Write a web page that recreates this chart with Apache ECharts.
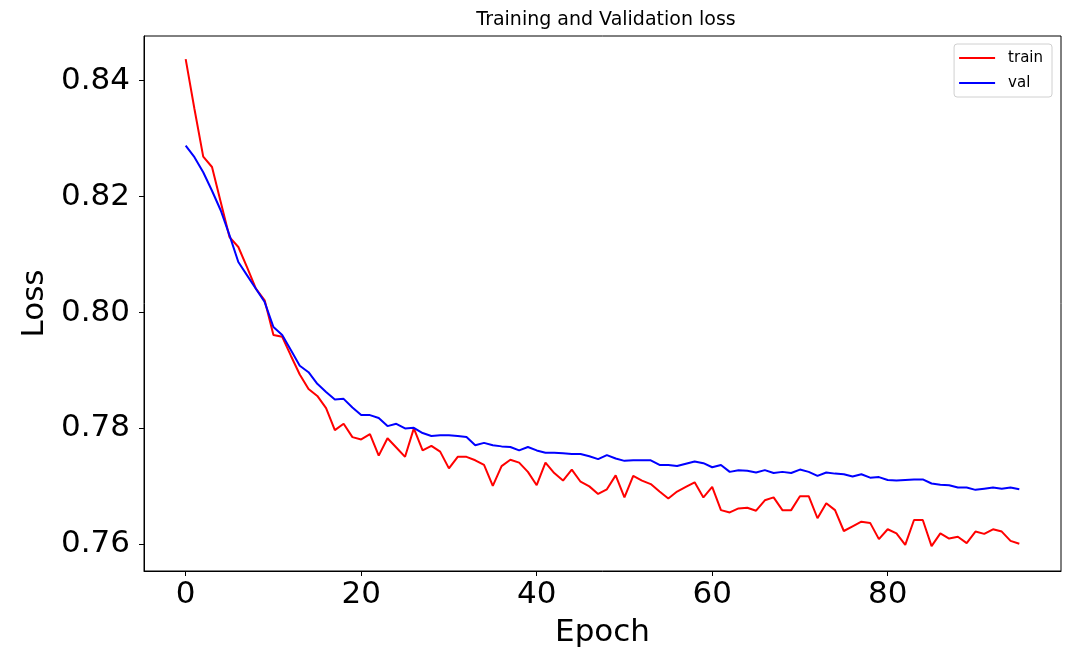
<!DOCTYPE html>
<html>
<head>
<meta charset="utf-8">
<script src="https://cdn.jsdelivr.net/npm/echarts@6/dist/echarts.min.js"></script>
<style>
  html, body { margin: 0; padding: 0; background: #fff; }
  #chart { width: 1076px; height: 653px; }
</style>
</head>
<body>
<div id="chart"></div>
<script>
const trainLoss = [
  0.8437, 0.8351, 0.8269, 0.8251, 0.8190, 0.8130, 0.8113, 0.8078, 0.8041, 0.8021,
  0.7961, 0.7958, 0.7925, 0.7893, 0.7868, 0.7856, 0.7835, 0.7797, 0.7808, 0.7785,
  0.7781, 0.7790, 0.7753, 0.7783, 0.7767, 0.7751, 0.7800, 0.7762, 0.7770, 0.7760,
  0.7731, 0.7751, 0.7751, 0.7745, 0.7737, 0.7701, 0.7735, 0.7746, 0.7741, 0.7725,
  0.7702, 0.7741, 0.7723, 0.7710, 0.7729, 0.7708, 0.7700, 0.7687, 0.7695, 0.7719,
  0.7681, 0.7718, 0.7710, 0.7704, 0.7691, 0.7679, 0.7691, 0.7699, 0.7707, 0.7681,
  0.7699, 0.7659, 0.7655, 0.7662, 0.7663, 0.7658, 0.7676, 0.7681, 0.7659, 0.7659,
  0.7683, 0.7683, 0.7645, 0.7671, 0.7659, 0.7623, 0.7631, 0.7639, 0.7637, 0.7609,
  0.7626, 0.7619, 0.7599, 0.7642, 0.7642, 0.7597, 0.7619, 0.7610, 0.7613, 0.7602,
  0.7622, 0.7618, 0.7626, 0.7622, 0.7606, 0.7601
];

const valLoss = [
  0.8288, 0.8268, 0.8242, 0.8210, 0.8176, 0.8133, 0.8087, 0.8064, 0.8041, 0.8018,
  0.7975, 0.7961, 0.7935, 0.7908, 0.7897, 0.7877, 0.7863, 0.7850, 0.7851, 0.7836,
  0.7823, 0.7823, 0.7818, 0.7804, 0.7808, 0.7800, 0.7801, 0.7792, 0.7787, 0.7788,
  0.7788, 0.7787, 0.7785, 0.7771, 0.7775, 0.7771, 0.7769, 0.7768, 0.7762, 0.7768,
  0.7762, 0.7758, 0.7758, 0.7757, 0.7756, 0.7756, 0.7752, 0.7747, 0.7754, 0.7748,
  0.7744, 0.7745, 0.7745, 0.7745, 0.7737, 0.7737, 0.7735, 0.7739, 0.7743, 0.7740,
  0.7733, 0.7737, 0.7725, 0.7728, 0.7727, 0.7724, 0.7728, 0.7723, 0.7725, 0.7723,
  0.7729, 0.7725, 0.7718, 0.7724, 0.7722, 0.7721, 0.7717, 0.7721, 0.7715, 0.7716,
  0.7711, 0.7710, 0.7711, 0.7712, 0.7712, 0.7705, 0.7703, 0.7702, 0.7698, 0.7698,
  0.7694, 0.7696, 0.7698, 0.7696, 0.7698, 0.7695
];

const xTicks = [0, 20, 40, 60, 80];
const yTicks = [0.76, 0.78, 0.80, 0.82, 0.84];

const font = '"DejaVu Sans", sans-serif';
const toPairs = arr => arr.map((v, i) => [i, v]);

const chart = echarts.init(document.getElementById('chart'), null, { renderer: 'canvas' });
chart.setOption({
  animation: false,
  backgroundColor: '#fff',
  title: {
    text: 'Training and Validation loss',
    left: 601,
    textAlign: 'center',
    top: 6,
    textStyle: { fontFamily: font, fontSize: 19, fontWeight: 'normal', color: '#000' }
  },
  legend: {
    orient: 'vertical',
    right: 24,
    top: 44,
    padding: [5, 9, 5, 5],
    itemGap: 7,
    itemWidth: 36,
    itemHeight: 2,
    icon: 'rect',
    borderColor: '#d0d0d0',
    borderWidth: 1,
    borderRadius: 3,
    backgroundColor: '#fff',
    textStyle: { fontFamily: font, fontSize: 15, color: '#000', lineHeight: 18, padding: [0, 0, 0, 8] },
    data: ['train', 'val']
  },
  grid: {
    left: 144,
    right: 15,
    top: 36,
    bottom: 82,
    show: true,
    borderColor: '#000',
    borderWidth: 1
  },
  xAxis: {
    type: 'value',
    min: -4.75,
    max: 99.75,
    name: 'Epoch',
    nameLocation: 'middle',
    nameGap: 46,
    nameTextStyle: { fontFamily: font, fontSize: 31, color: '#000' },
    axisLine: { show: true, onZero: false, lineStyle: { color: '#000', width: 1 } },
    splitLine: { show: false },
    axisTick: { show: true, inside: false, length: 5, customValues: xTicks, lineStyle: { color: '#000', width: 1 } },
    axisLabel: { customValues: xTicks, margin: 8, fontFamily: font, fontSize: 31, color: '#000' }
  },
  yAxis: {
    type: 'value',
    min: 0.7554,
    max: 0.8477,
    name: 'Loss',
    nameLocation: 'middle',
    nameGap: 94,
    nameTextStyle: { fontFamily: font, fontSize: 31, color: '#000' },
    axisLine: { show: true, onZero: false, lineStyle: { color: '#000', width: 1 } },
    splitLine: { show: false },
    axisTick: { show: true, inside: false, length: 5, customValues: yTicks, lineStyle: { color: '#000', width: 1 } },
    axisLabel: {
      customValues: yTicks,
      margin: 14,
      fontFamily: font,
      fontSize: 31,
      color: '#000',
      formatter: v => v.toFixed(2)
    }
  },
  series: [
    {
      name: 'train',
      type: 'line',
      data: toPairs(trainLoss),
      symbol: 'none',
      lineStyle: { color: '#ff0000', width: 2 },
      itemStyle: { color: '#ff0000' }
    },
    {
      name: 'val',
      type: 'line',
      data: toPairs(valLoss),
      symbol: 'none',
      lineStyle: { color: '#0000ff', width: 2 },
      itemStyle: { color: '#0000ff' }
    }
  ]
});
</script>
</body>
</html>
